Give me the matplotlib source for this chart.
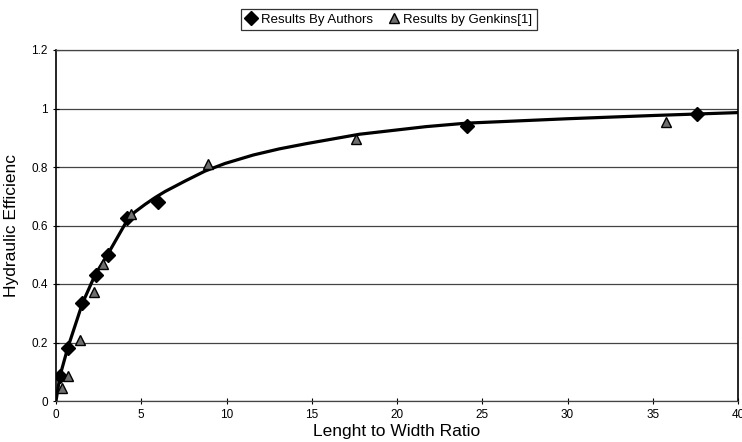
import numpy as np
import matplotlib.pyplot as plt

plt.rcParams['font.family'] = ['Liberation Sans', 'DejaVu Sans']

# data
authors_x = [0.23, 0.68, 1.55, 2.35, 3.07, 4.16, 6.0, 24.1, 37.6]
authors_y = [0.085, 0.18, 0.334, 0.43, 0.50, 0.626, 0.681, 0.94, 0.98]

genkins_x = [0.37, 0.72, 1.43, 2.25, 2.78, 4.4, 8.93, 17.6, 35.8]
genkins_y = [0.043, 0.085, 0.208, 0.373, 0.47, 0.64, 0.81, 0.897, 0.955]

# trend curve sampled from the chart
curve_x = [0, 0.23, 0.68, 1.55, 2.29, 3.07, 4.05, 4.6, 5.22, 5.8, 6.39, 7.57,
           8.74, 9.91, 11.57, 13.1, 14.7, 17.8, 21.7, 24.1, 30, 35, 40]
curve_y = [0, 0.085, 0.18, 0.334, 0.431, 0.505, 0.605, 0.645, 0.672, 0.695,
           0.716, 0.752, 0.786, 0.812, 0.841, 0.862, 0.880, 0.912, 0.938,
           0.950, 0.965, 0.976, 0.986]

x_ticks = [0, 5, 10, 15, 20, 25, 30, 35, 40]
y_ticks = [0, 0.2, 0.4, 0.6, 0.8, 1, 1.2]
y_tick_labels = ['0', '0.2', '0.4', '0.6', '0.8', '1', '1.2']

fig = plt.figure(figsize=(7.42, 4.42), dpi=100)
ax = fig.add_axes([56 / 742, 41 / 442, 682 / 742, 351 / 442])

ax.plot(curve_x, curve_y, color='black', lw=2.3, zorder=3,
        solid_joinstyle='round')
ax.plot(authors_x, authors_y, linestyle='none', marker='D', markersize=7,
        color='black', label='Results By Authors', zorder=4)
ax.plot(genkins_x, genkins_y, linestyle='none', marker='^', markersize=6.5,
        markerfacecolor='#6e6e6e', markeredgecolor='black', markeredgewidth=1,
        label='Results by Genkins[1]', zorder=4)

ax.set_xlim(0, 40)
ax.set_ylim(0, 1.2)
ax.set_xticks(x_ticks)
ax.set_yticks(y_ticks)
ax.set_yticklabels(y_tick_labels)
ax.tick_params(axis='both', labelsize=8.5, length=4, width=0.8, direction='inout', pad=4)
ax.yaxis.grid(True, color='#444444', lw=0.9)
ax.set_axisbelow(True)

for side in ['left', 'right']:
    ax.spines[side].set_color('black')
    ax.spines[side].set_linewidth(1.2)
for side in ['top', 'bottom']:
    ax.spines[side].set_color('#444444')
    ax.spines[side].set_linewidth(0.9)

ax.set_xlabel('Lenght to Width Ratio', fontsize=12.5, labelpad=2)
ax.set_ylabel('Hydraulic Efficienc', fontsize=12.5, labelpad=9)

leg = fig.legend(loc='upper center', bbox_to_anchor=(389 / 742, 0.995), ncol=2,
                 fontsize=9.5, frameon=True, fancybox=False, handlelength=0.8,
                 handletextpad=0.3, columnspacing=1.2, borderpad=0.35)
leg.get_frame().set_edgecolor('black')
leg.get_frame().set_linewidth(0.9)

fig.savefig('out.png', dpi=100)
